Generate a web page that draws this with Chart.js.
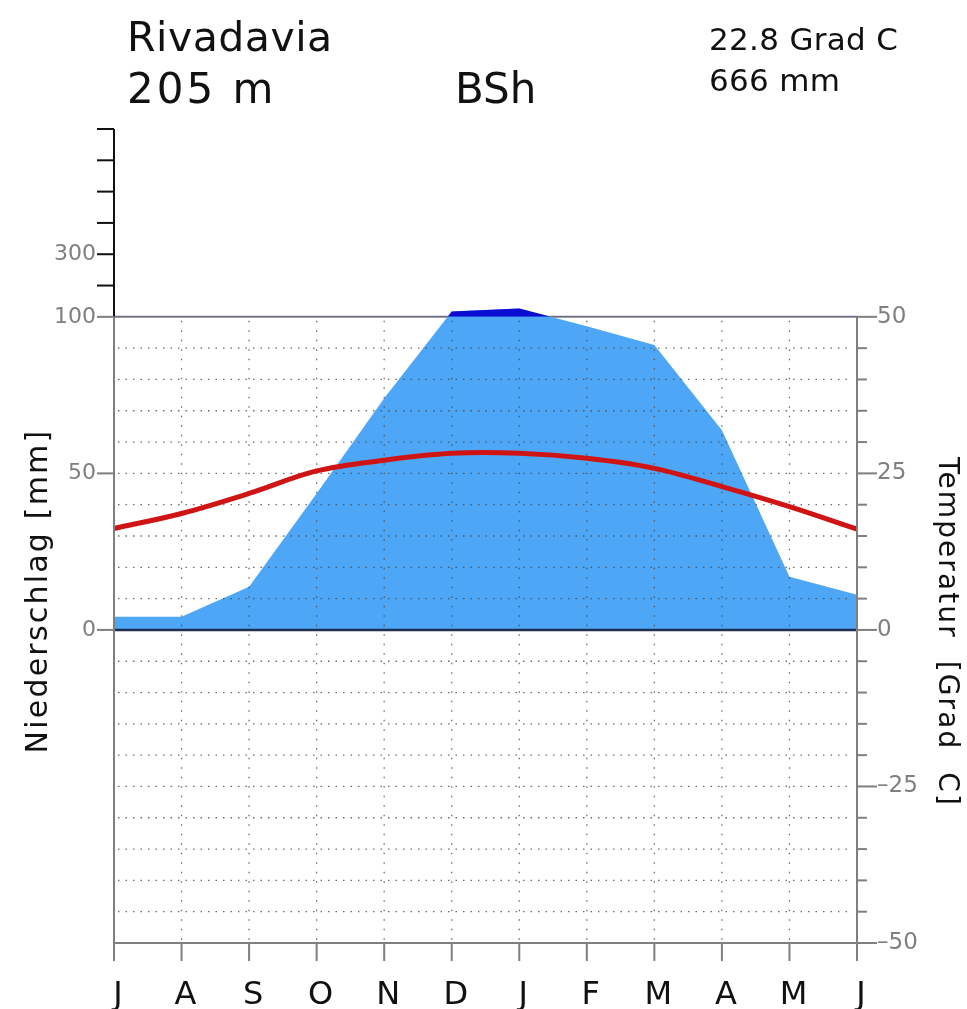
<!DOCTYPE html>
<html>
<head>
<meta charset="utf-8">
<script src="https://cdn.jsdelivr.net/npm/chart.js@4.4.1/dist/chart.umd.min.js"></script>
<style>
  html, body { margin: 0; padding: 0; background: #fff; }
  #wrap { position: relative; width: 967px; height: 1009px; }
</style>
</head>
<body>
<div id="wrap"><canvas id="klima"></canvas></div>
<script>
// Klimadiagramm Rivadavia (Walter-Lieth), Jahr beginnt im Juli (Suedhalbkugel)
const months = ['J', 'A', 'S', 'O', 'N', 'D', 'J', 'F', 'M', 'A', 'M', 'J'];
const precipMm = [4.2, 4.2, 13.8, 43.6, 74, 117, 127, 97, 91, 63.8, 17, 11.2];
const tempC = [16.2, 18.6, 21.8, 25.4, 27.1, 28.2, 28.2, 27.4, 25.8, 22.9, 19.7, 16.1];

const precipTicks = [0, 50, 100, 200, 300, 400, 500, 600, 700];
const precipLabels = [0, 50, 100, 300];
const tempTicks = [-50, -45, -40, -35, -30, -25, -20, -15, -10, -5, 0, 5, 10, 15, 20, 25, 30, 35, 40, 45, 50];
const tempLabels = [-50, -25, 0, 25, 50];

const station = 'Rivadavia';
const elevation = '205 m';
const climateClass = 'BSh';
const meanTemp = '22.8 Grad C';
const sumPrecip = '666 mm';

const GRAY = '#7f7f7f';
const FONT = '"DejaVu Sans", Verdana, sans-serif';

// ueber 100 mm wird der Massstab auf 1/10 gestaucht
const scaleP = mm => (mm <= 100 ? mm : 100 + (mm - 100) / 10);
const unscaleP = v => (v <= 100 ? v : Math.round((v - 100) * 10 + 100));

const precipShown = precipMm.map(scaleP);

function line(ctx, x1, y1, x2, y2, color, width, dash) {
    ctx.save();
    ctx.strokeStyle = color;
    ctx.lineWidth = width;
    ctx.setLineDash(dash || []);
    ctx.beginPath();
    ctx.moveTo(x1, y1);
    ctx.lineTo(x2, y2);
    ctx.stroke();
    ctx.restore();
}

function text(ctx, str, x, y, size, opts = {}) {
    ctx.save();
    ctx.translate(x, y);
    if (opts.rotate) ctx.rotate(opts.rotate);
    ctx.font = size + 'px ' + FONT;
    ctx.fillStyle = opts.color || '#111';
    ctx.textAlign = opts.align || 'left';
    ctx.textBaseline = 'alphabetic';
    if ('letterSpacing' in ctx) ctx.letterSpacing = (opts.spacing || 0) + 'px';
    ctx.fillText(str, 0, 0);
    ctx.restore();
}

const frame = {
    id: 'frame',
    beforeDatasetsDraw(chart) {
        const { ctx, chartArea: a, scales } = chart;
        const y100 = scales.yP.getPixelForValue(100);
        line(ctx, a.left, y100, a.right, y100, GRAY, 2);
    },
    // Gitter ueber der Flaeche, aber unter der Temperaturkurve
    beforeDatasetDraw(chart, args) {
        if (args.index !== 0) return;
        const { ctx, chartArea: a, scales } = chart;
        const yT = scales.yT, x = scales.x;
        const top = yT.getPixelForValue(50), bottom = yT.getPixelForValue(-50);
        tempTicks.forEach(t => {
            if (t === 0 || Math.abs(t) === 50) return;
            const y = yT.getPixelForValue(t);
            line(ctx, a.left + 4, y, a.right - 4, y, 'rgba(70,70,70,0.8)', 1.3, [1.5, 6]);
        });
        months.forEach((m, i) => {
            if (i === 0 || i === months.length - 1) return;
            const px = x.getPixelForValue(i);
            line(ctx, px, top + 4, px, bottom, 'rgba(70,70,70,0.8)', 1.3, [1.5, 8]);
        });
        const y0 = yT.getPixelForValue(0);
        line(ctx, a.left, y0, a.right, y0, '#1f2f4f', 2.5);
    },
    afterDraw(chart) {
        const { ctx, chartArea: a, scales } = chart;
        const yP = scales.yP, yT = scales.yT, x = scales.x;
        const y100 = yP.getPixelForValue(100);
        const yBot = yT.getPixelForValue(-50);
        const foot = yBot + 18;

        // Achsen
        line(ctx, a.left, yP.getPixelForValue(scaleP(700)), a.left, y100, '#111', 2);
        line(ctx, a.left, y100, a.left, foot, GRAY, 2);
        line(ctx, a.right, yT.getPixelForValue(50), a.right, foot, GRAY, 2);
        line(ctx, a.left, yBot, a.right, yBot, GRAY, 2);

        precipTicks.forEach(p => {
            const y = yP.getPixelForValue(scaleP(p));
            line(ctx, a.left - 17, y, a.left, y, p > 100 ? '#111' : GRAY, 2);
        });
        tempTicks.forEach(t => {
            const y = yT.getPixelForValue(t);
            const len = tempLabels.includes(t) ? 20 : 10;
            line(ctx, a.right, y, a.right + len, y, GRAY, 2);
        });
        months.forEach((m, i) => {
            const px = x.getPixelForValue(i);
            line(ctx, px, yBot, px, foot, GRAY, 2);
        });

        // Kopfzeilen
        text(ctx, station, 127, 51, 41, { spacing: 0.5 });
        text(ctx, elevation, 127, 103, 42, { spacing: 3 });
        text(ctx, climateClass, 455, 103, 42);
        text(ctx, meanTemp, 709, 50, 31, { spacing: 0.3 });
        text(ctx, sumPrecip, 709, 91, 31, { spacing: 0.3 });

        // Achsentitel
        text(ctx, 'Niederschlag [mm]', 47, 591, 30, { rotate: -Math.PI / 2, align: 'center', spacing: 2.2 });
        text(ctx, 'Temperatur  [Grad  C]', 939, 632, 28, { rotate: Math.PI / 2, align: 'center', spacing: 2.1 });
    }
};

Chart.defaults.font.family = FONT;

new Chart(document.getElementById('klima'), {
    type: 'line',
    data: {
        labels: months,
        datasets: [
            {
                label: 'Temperatur',
                data: tempC,
                yAxisID: 'yT',
                borderColor: '#d01414',
                borderWidth: 5,
                pointRadius: 0,
                tension: 0.35,
                fill: false
            },
            {
                label: 'Niederschlag > 100 mm',
                data: precipShown,
                yAxisID: 'yP',
                borderColor: 'transparent',
                pointRadius: 0,
                tension: 0,
                fill: { target: { value: 100 }, above: '#0b0bd2', below: 'rgba(0,0,0,0)' }
            },
            {
                label: 'Niederschlag',
                data: precipShown,
                yAxisID: 'yP',
                borderColor: 'transparent',
                backgroundColor: '#4ea6f6',
                pointRadius: 0,
                tension: 0,
                fill: 'origin'
            }
        ]
    },
    options: {
        responsive: true,
        maintainAspectRatio: false,
        animation: false,
        layout: { padding: { top: 129, left: 0, right: 0, bottom: 0 } },
        plugins: {
            legend: { display: false },
            tooltip: { enabled: false }
        },
        scales: {
            x: {
                type: 'category',
                offset: false,
                grid: { display: false, drawTicks: false },
                border: { display: false },
                ticks: { color: '#111', font: { size: 32 }, padding: 33, maxRotation: 0, autoSkip: false, labelOffset: 4 },
                afterFit: s => { s.height = 66; }
            },
            yP: {
                position: 'left',
                min: -100,
                max: 160,
                grid: { display: false, drawTicks: false },
                border: { display: false },
                afterBuildTicks: s => { s.ticks = precipTicks.map(p => ({ value: scaleP(p) })); },
                ticks: {
                    autoSkip: false,
                    color: GRAY,
                    font: { size: 22 },
                    padding: 18,
                    callback: v => (precipLabels.includes(unscaleP(v)) ? String(unscaleP(v)) : '')
                },
                afterFit: s => { s.width = 114; }
            },
            yT: {
                position: 'right',
                min: -50,
                max: 80,
                grid: { display: false, drawTicks: false },
                border: { display: false },
                afterBuildTicks: s => { s.ticks = tempTicks.map(t => ({ value: t })); },
                ticks: {
                    autoSkip: false,
                    color: GRAY,
                    font: { size: 23 },
                    padding: 20,
                    callback: v => (tempLabels.includes(v) ? (v < 0 ? '\u2013' + Math.abs(v) : String(v)) : '')
                },
                afterFit: s => { s.width = 110; }
            }
        }
    },
    plugins: [frame]
});
</script>
</body>
</html>
